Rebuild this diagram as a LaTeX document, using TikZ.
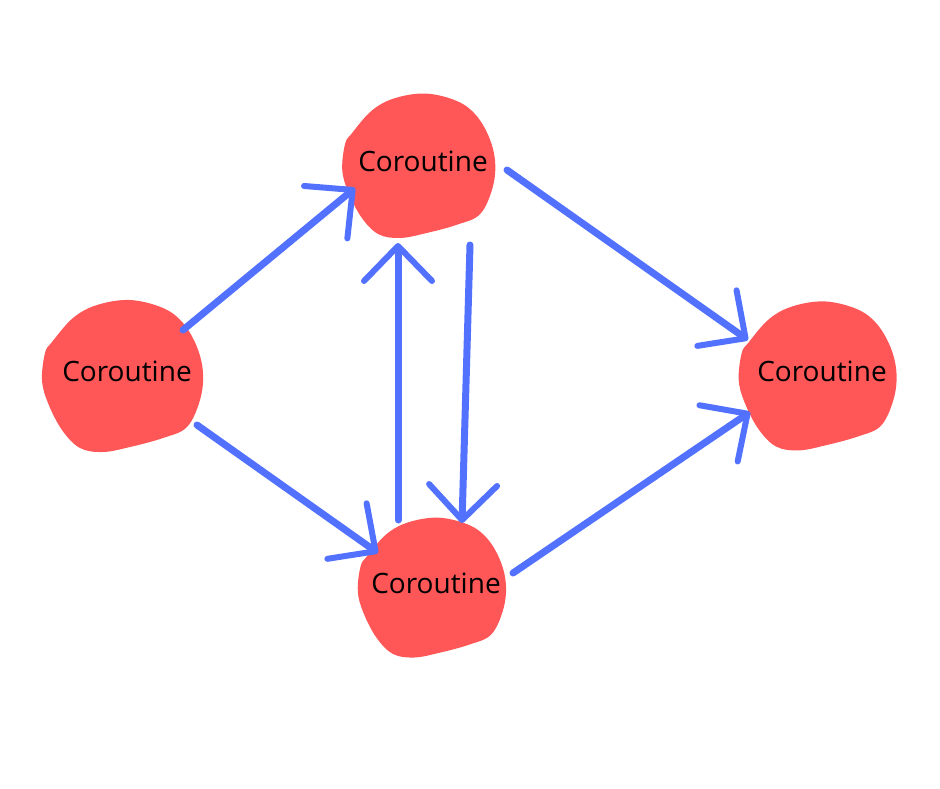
\documentclass[tikz,border=0pt]{standalone}
\usepackage{fontspec}
\setmainfont{Open Sans}
\usetikzlibrary{arrows.meta,backgrounds}
\definecolor{co_red}{RGB}{255, 87, 87}
\definecolor{flow_blue}{RGB}{82, 113, 255}
\tikzstyle{co}=[text=black,inner sep=0pt,font=\fontsize{28}{33}\selectfont]
\tikzstyle{flow}=[draw=flow_blue,line width=7pt,line cap=round,
  -{Straight Barb[length=35pt,width=68pt,line width=6pt,round]}]
\tikzset{blob/.pic={\fill[co_red] plot[smooth cycle,tension=0.6] coordinates
  {(3,-71) (36,-63) (56,-48) (70,-24) (76,2) (73,29) (60,56) (36,67) (3,76)
   (-24,81) (-47,77) (-65,59) (-79,32) (-85,9) (-82,-18) (-75,-29) (-54,-53) (-30,-66)};}}

\begin{document}
\begin{tikzpicture}[x=1pt,y=-1pt]
        \useasboundingbox (0,0) rectangle (940,788);
        \node [style=co] (0) at (127,371) {Coroutine};
        \node [style=co] (1) at (423,161) {Coroutine};
        \node [style=co] (2) at (436,583) {Coroutine};
        \node [style=co] (3) at (822,371) {Coroutine};
        \begin{scope}[on background layer]
            \pic at (0.center) {blob};
            \pic[scale=0.95] at (1.center) {blob};
            \pic[scale=0.92] at (2.center) {blob};
            \pic[scale=0.98] at (3.center) {blob};
        \end{scope}
        \draw [style=flow] ([shift={(56,-41)}]0.center) to ([shift={(-68,27)}]1.center);
        \draw [style=flow] ([shift={(70,54)}]0.center) to ([shift={(-58,-30)}]2.center);
        \draw [style=flow] ([shift={(-38,-63)}]2.center) to ([shift={(-25,82)}]1.center);
        \draw [style=flow] ([shift={(47,84)}]1.center) to ([shift={(26,-60)}]2.center);
        \draw [style=flow] ([shift={(84,9)}]1.center) to ([shift={(-74,-31)}]3.center);
        \draw [style=flow] ([shift={(77,-10)}]2.center) to ([shift={(-72,41)}]3.center);
    \end{tikzpicture}
\end{document}
